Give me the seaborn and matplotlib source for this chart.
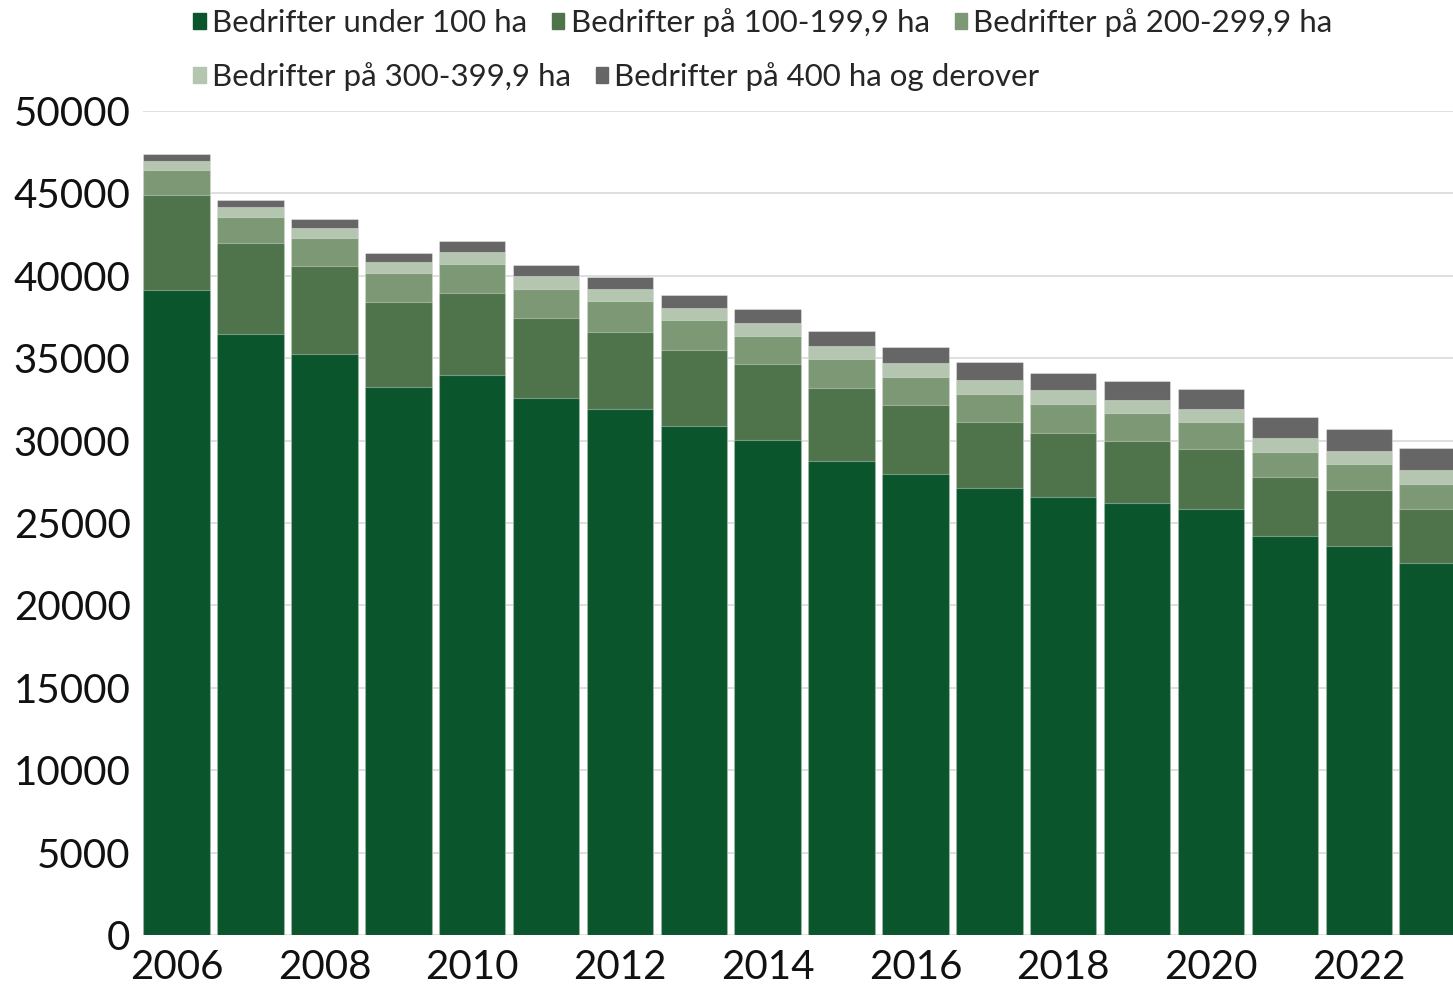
import pandas as pd
import matplotlib.pyplot as plt
import seaborn as sns

years = list(range(2006, 2024))
under_100 = [39140, 36450, 35270, 33270, 33980, 32600, 31920, 30900, 30060,
             28780, 27990, 27140, 26600, 26230, 25830, 24190, 23600, 22590]
ha_100_199 = [5780, 5560, 5340, 5160, 4990, 4840, 4650, 4620, 4570,
              4430, 4190, 3970, 3880, 3750, 3680, 3600, 3420, 3260]
ha_200_299 = [1520, 1580, 1680, 1720, 1770, 1780, 1900, 1780, 1740,
              1760, 1700, 1730, 1740, 1690, 1620, 1520, 1540, 1520]
ha_300_399 = [530, 580, 610, 690, 720, 770, 730, 750, 770,
              770, 810, 860, 830, 810, 800, 850, 810, 830]
ha_400_plus = [420, 450, 530, 540, 650, 670, 730, 780, 830,
               890, 990, 1050, 1070, 1140, 1220, 1250, 1310, 1350]

labels = ["Bedrifter under 100 ha", "Bedrifter på 100-199,9 ha",
          "Bedrifter på 200-299,9 ha", "Bedrifter på 300-399,9 ha",
          "Bedrifter på 400 ha og derover"]
colors = ["#0b552d", "#4f744c", "#7d9875", "#b4c6b0", "#666666"]

df = pd.DataFrame({"year": [str(y) for y in years],
                   labels[0]: under_100, labels[1]: ha_100_199,
                   labels[2]: ha_200_299, labels[3]: ha_300_399,
                   labels[4]: ha_400_plus})
cum = df[labels].cumsum(axis=1)
cum["year"] = df["year"]

sns.set_style("white")
plt.rcParams["font.family"] = ["Lato", "DejaVu Sans"]

fig = plt.figure(figsize=(14.53, 9.86), dpi=100)
ax = fig.add_axes([143 / 1453, 51 / 986, 1310 / 1453, 824 / 986])

# stacked bars: draw cumulative totals from the top layer down
handles = []
for lab, col in zip(labels[::-1], colors[::-1]):
    sns.barplot(data=cum, x="year", y=lab, color=col, width=0.9, ax=ax,
                edgecolor=(1, 1, 1, 0.35), linewidth=0.8, saturation=1)
    handles.append(plt.Rectangle((0, 0), 1, 1, color=col))
handles = handles[::-1]

ax.set_xlim(-0.455, 17.275)
ax.set_ylim(0, 50000)
ax.set_yticks(range(0, 50001, 5000))
ax.set_xticks(range(0, 17, 2))
ax.set_xticklabels([str(y) for y in years[::2]])
ax.set_xlabel("")
ax.set_ylabel("")
ax.tick_params(axis="both", length=0, labelsize=29, colors="#111111")
ax.tick_params(axis="y", pad=9)
ax.tick_params(axis="x", pad=10)
ax.yaxis.grid(True, color="#d9d9d9", linewidth=1.2)
ax.set_axisbelow(True)
sns.despine(ax=ax, left=True, bottom=True, right=True, top=True)

leg_kw = dict(frameon=False, fontsize=22.5, handlelength=0.4, handleheight=0.4,
              handletextpad=0.2, columnspacing=0.8, borderpad=0,
              borderaxespad=0, loc="center left")
fig.legend(handles[:3], labels[:3], ncol=3,
           bbox_to_anchor=(193 / 1453, 1 - 23 / 986), **leg_kw)
fig.legend(handles[3:], labels[3:], ncol=2,
           bbox_to_anchor=(193 / 1453, 1 - 77 / 986), **leg_kw)

fig.savefig("out.png", dpi=100)
